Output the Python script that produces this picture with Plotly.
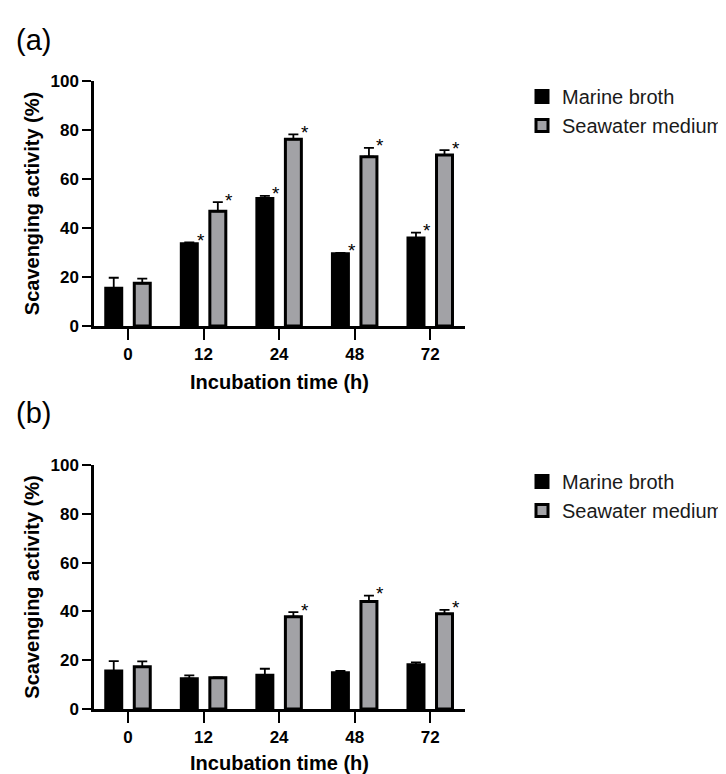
import plotly.graph_objects as go

# ---------------- data ----------------
time_labels = ["0", "12", "24", "48", "72"]
series_names = ["Marine broth", "Seawater medium"]

# panel (a)
marine_a = [15.4, 33.6, 52.0, 29.5, 35.9]
marine_a_err = [4.3, 0.5, 1.1, 0.3, 2.2]
sea_a = [17.4, 46.8, 76.2, 69.1, 69.8]
sea_a_err = [1.9, 3.8, 2.0, 3.6, 2.0]
sig_marine_a = [False, True, True, True, True]
sig_sea_a = [False, True, True, True, True]

# panel (b)
marine_b = [15.6, 12.4, 13.8, 14.9, 18.1]
marine_b_err = [4.0, 1.4, 2.7, 0.7, 1.0]
sea_b = [17.3, 12.8, 37.8, 44.1, 39.0]
sea_b_err = [2.2, 0.2, 1.9, 2.4, 1.6]
sig_marine_b = [False, False, False, False, False]
sig_sea_b = [False, False, True, True, True]

# ---------------- style ----------------
FONT = "Liberation Sans, Arial, sans-serif"
BLACK = "#000000"
GRAY = "#a2a2a6"
# page body has an 8px margin; the figure is sized to fill the rest of the window
OFF = 8
W, H = 726 - OFF, 774 - OFF
BARGAP = 0.245
BARGROUPGAP = 0.44


def px(x):
    return (x - OFF) / W


def py(y):
    return 1 - (y - OFF) / H


fig = go.Figure()
xs = list(range(len(time_labels)))

panels = [
    dict(xa="x", ya="y", legend="legend", m=marine_a, me=marine_a_err, s=sea_a, se=sea_a_err,
         sm=sig_marine_a, ss=sig_sea_a),
    dict(xa="x2", ya="y2", legend="legend2", m=marine_b, me=marine_b_err, s=sea_b, se=sea_b_err,
         sm=sig_marine_b, ss=sig_sea_b),
]

for p in panels:
    for name, vals, errs, col in [(series_names[0], p["m"], p["me"], BLACK),
                                   (series_names[1], p["s"], p["se"], GRAY)]:
        fig.add_trace(go.Bar(
            x=xs, y=vals, name=name, xaxis=p["xa"], yaxis=p["ya"], legend=p["legend"],
            offsetgroup=name,
            marker=dict(color=col, line=dict(color=BLACK, width=3)),
            error_y=dict(type="data", array=errs, arrayminus=[0] * len(errs), symmetric=False,
                         color=BLACK, thickness=1.8, width=5),
        ))

# significance asterisks (positioned relative to each bar group)
slot = (1 - BARGAP) / 2
half_bar = slot * (1 - BARGROUPGAP) / 2
annotations = []
for p in panels:
    for k, (vals, errs, sig) in enumerate([(p["m"], p["me"], p["sm"]), (p["s"], p["se"], p["ss"])]):
        center_off = -slot / 2 if k == 0 else slot / 2
        for i, (v, e, s) in enumerate(zip(vals, errs, sig)):
            if s:
                annotations.append(dict(
                    x=i + center_off + half_bar + 0.045, y=v + e, xref=p["xa"], yref=p["ya"],
                    text="*", showarrow=False, xanchor="center", yanchor="middle",
                    font=dict(family=FONT, size=19, color=BLACK), yshift=2,
                ))

annotations += [
    dict(x=px(14), y=py(40), xref="paper", yref="paper", text="(a)", showarrow=False,
         xanchor="left", yanchor="middle", font=dict(family=FONT, size=29, color=BLACK)),
    dict(x=px(14), y=py(413), xref="paper", yref="paper", text="(b)", showarrow=False,
         xanchor="left", yanchor="middle", font=dict(family=FONT, size=29, color=BLACK)),
]

xdom = [px(94), px(465)]
ydom_a = [py(326), py(81)]
ydom_b = [py(709), py(465)]

xaxis_common = dict(
    domain=xdom, range=[-0.45, 4.46], tickmode="array", tickvals=xs, ticktext=time_labels,
    showline=True, linecolor=BLACK, linewidth=2.5, ticks="outside", ticklen=11, tickwidth=2.2,
    tickcolor=BLACK, showgrid=False, zeroline=False, automargin=False,
    tickfont=dict(family=FONT, size=17, color=BLACK, weight="bold"),
    title=dict(text="Incubation time (h)", standoff=12,
               font=dict(family=FONT, size=20, color=BLACK, weight="bold")),
    fixedrange=True,
)
yaxis_common = dict(
    range=[0, 100], tickvals=[0, 20, 40, 60, 80, 100],
    showline=True, linecolor=BLACK, linewidth=2.5, ticks="outside", ticklen=9, tickwidth=2.2,
    tickcolor=BLACK, showgrid=False, zeroline=False, automargin=False,
    tickfont=dict(family=FONT, size=17, color=BLACK, weight="bold"),
    title=dict(text="Scavenging activity (%)", standoff=6,
               font=dict(family=FONT, size=20, color=BLACK, weight="bold")),
    fixedrange=True,
)

legend_common = dict(
    xanchor="left", yanchor="top", bgcolor="rgba(0,0,0,0)",
    font=dict(family=FONT, size=20, color="#1a1a1a"), tracegroupgap=4, itemwidth=30,
)

fig.update_layout(
    width=W, height=H, margin=dict(l=0, r=0, t=0, b=0, autoexpand=False),
    paper_bgcolor="white", plot_bgcolor="white",
    barmode="group", bargap=BARGAP, bargroupgap=BARGROUPGAP,
    xaxis=dict(**xaxis_common, anchor="y"),
    yaxis=dict(**yaxis_common, domain=ydom_a, anchor="x"),
    xaxis2=dict(**xaxis_common, anchor="y2"),
    yaxis2=dict(**yaxis_common, domain=ydom_b, anchor="x2"),
    legend=dict(**legend_common, x=px(522), y=py(77)),
    legend2=dict(**legend_common, x=px(522), y=py(462)),
    annotations=annotations,
    showlegend=True,
)

fig.write_html("out.html")
